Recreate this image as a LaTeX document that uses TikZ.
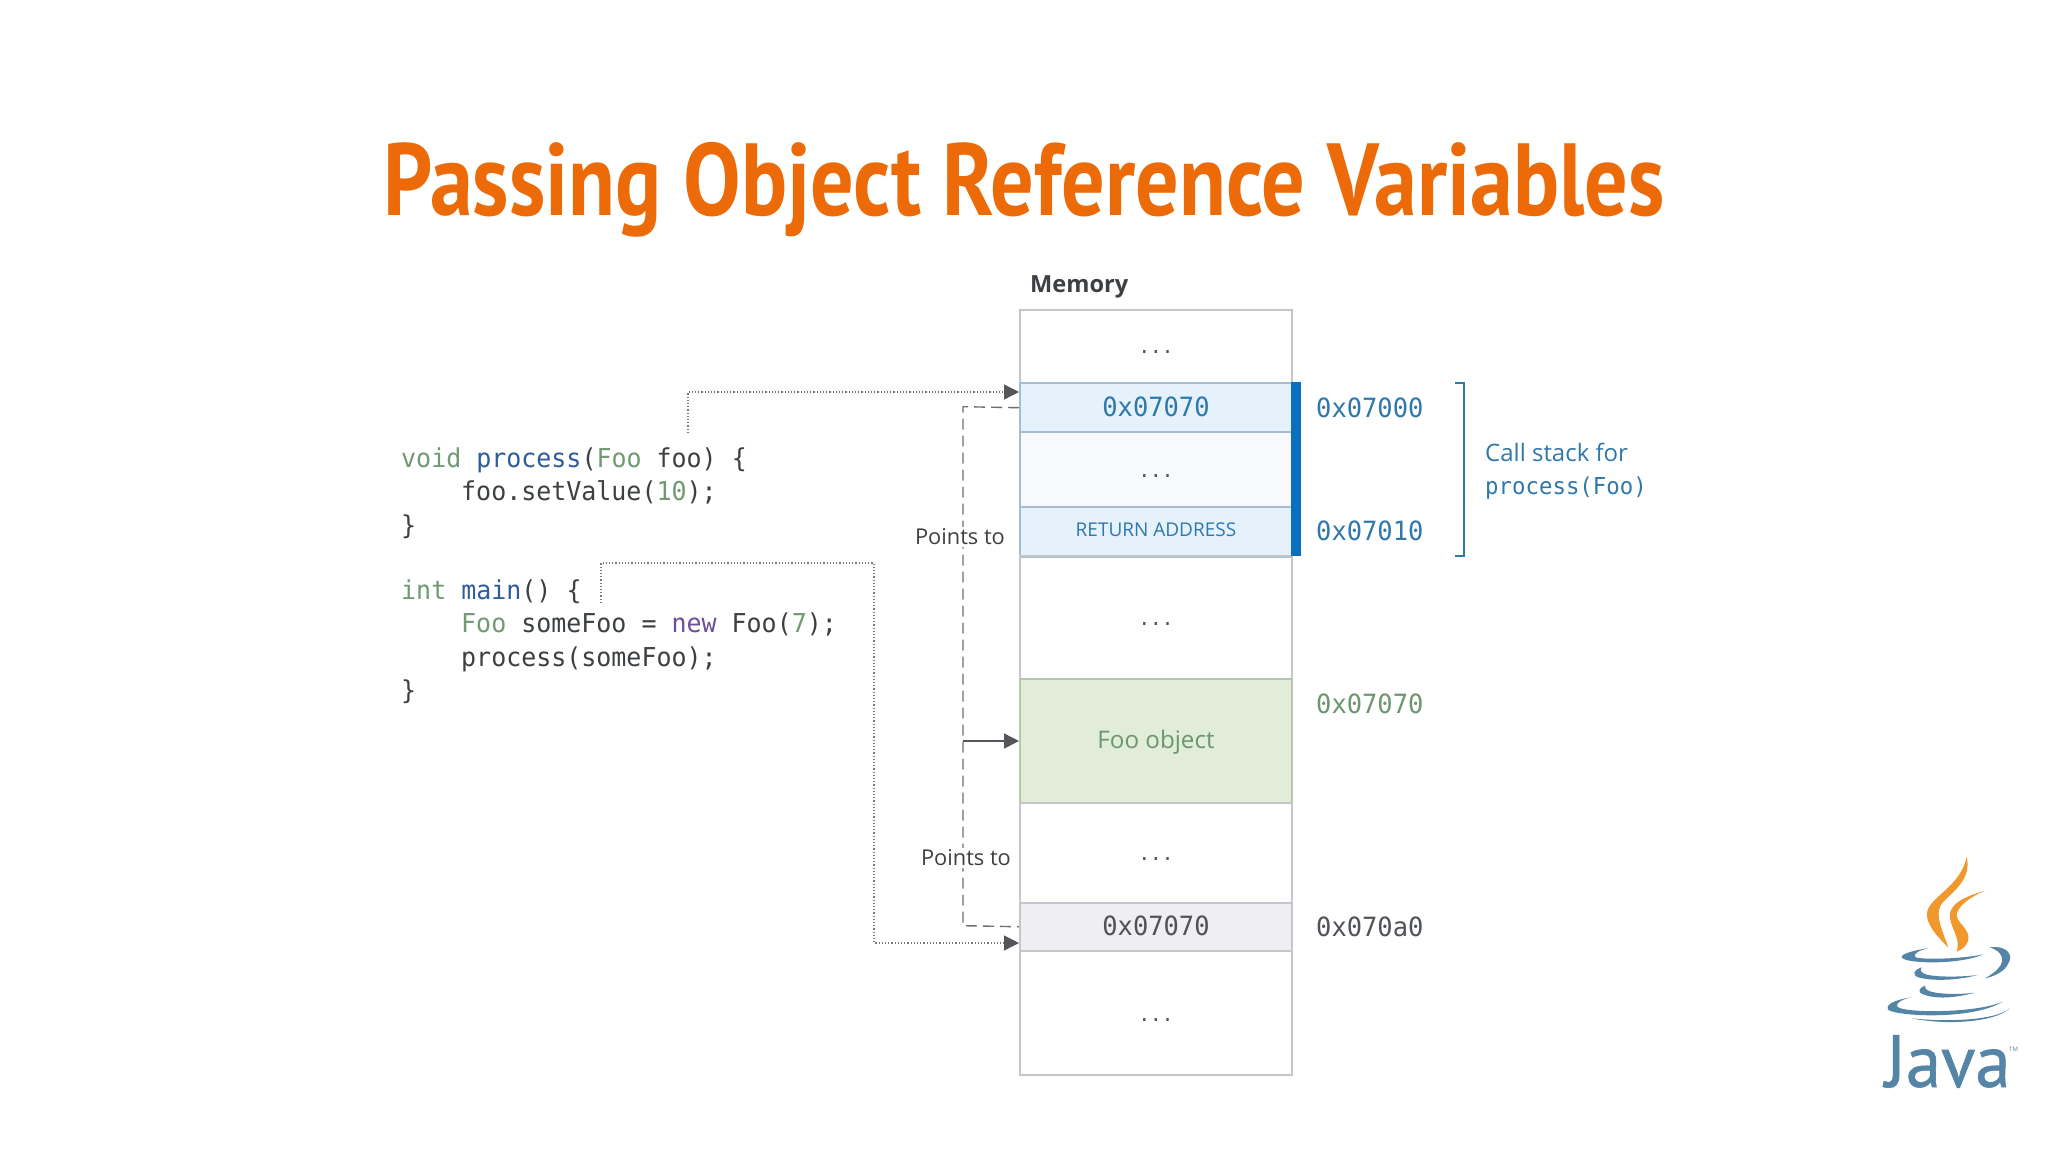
\documentclass[tikz,border=0pt]{standalone}
\usepackage{fontspec}
\usetikzlibrary{arrows.meta}
\setmainfont{Open Sans}
\newfontfamily\titlefont[FakeStretch=0.84]{PT Sans Bold}
\newfontfamily\codefont[FakeStretch=0.96]{DejaVu Sans Mono}
\newfontfamily\javafont[FakeStretch=0.96,FakeBold=0.8]{PT Sans}
\definecolor{ttl}{HTML}{EC6A08}
\definecolor{ink}{HTML}{3C4043}
\definecolor{kgreen}{HTML}{6F9A72}
\definecolor{kblue}{HTML}{2F5C9A}
\definecolor{kpurple}{HTML}{6E4E9A}
\definecolor{sblue}{HTML}{2E78AC}
\definecolor{bar}{HTML}{0A6FBE}
\definecolor{edge}{HTML}{C4C6CC}
\definecolor{edgeb}{HTML}{A9BBCF}
\definecolor{edgeg}{HTML}{B9C4AE}
\definecolor{fblue}{HTML}{E6F2FB}
\definecolor{fpale}{HTML}{F8F9FD}
\definecolor{fgreen}{HTML}{E1EDD8}
\definecolor{fgray}{HTML}{EFEFF1}
\definecolor{lgreen}{HTML}{6B9670}
\definecolor{addr}{HTML}{4F5256}
\definecolor{arrowc}{HTML}{55565A}
\definecolor{flame}{HTML}{F0982C}
\definecolor{jblue}{HTML}{5484A6}
\begin{document}
\begin{tikzpicture}[x=1pt,y=-1pt,
  cell/.style={draw=edge,line width=2pt,minimum width=272pt,inner sep=0pt,anchor=north west,text height=18.4pt,text depth=0pt},
  codeln/.style={anchor=base west,inner sep=0pt,text=ink,font=\codefont\fontsize{26}{30}\selectfont},
  addrl/.style={anchor=west,inner sep=0pt,text height=20.7pt,text depth=0pt,font=\codefont\fontsize{26.5}{30}\selectfont},
  rowval/.style={font=\codefont\fontsize{26.5}{30}\selectfont},
  dotst/.style={inner sep=0pt,text=addr,font=\codefont\fontsize{20}{24}\selectfont},
  ptlabel/.style={fill=white,inner sep=1.5pt,text=ink,font=\fontsize{21.8}{24}\selectfont},
  dotline/.style={draw=arrowc!80,dotted,line width=1.2pt},
  dashline/.style={draw=arrowc!85,dash pattern=on 11pt off 6pt,line width=1.4pt},
  headtip/.style={-{Triangle[length=15pt,width=15pt,color=arrowc,fill=arrowc]}},
  flamefill/.style={fill=flame},
  cupfill/.style={fill=jblue}]
\useasboundingbox (0,0) rectangle (2048,1152);
\fill[white] (0,0) rectangle (2048,1152);

\node[text=ttl,inner sep=0pt,font=\titlefont\fontsize{102.5}{114}\selectfont] (title) at (1024,190) {Passing Object Reference Variables};

% memory cells
\node[anchor=base west,inner sep=0pt,font=\bfseries\fontsize{23.6}{26}\selectfont,text=ink] (memlabel) at (1030,292) {Memory};
\node[cell,minimum height=73pt] (r1) at (1019,308.5) {};
\node[cell,draw=edgeb,fill=fblue,minimum height=50pt,text=sblue,rowval] (stackval) at (1019,381.7) {0x07070};
\node[cell,draw=edgeb,fill=fpale,minimum height=74.5pt] (r2) at (1019,431.3) {};
\node[cell,draw=edgeb,fill=fblue,minimum height=50pt,text=sblue,text height=9.8pt,font=\fontsize{19}{22}\selectfont] (ret) at (1019,505.8) {RETURN ADDRESS};
\node[cell,minimum height=123pt] (r3) at (1019,555.4) {};
\node[cell,draw=edgeg,fill=fgreen,minimum height=124pt,text=lgreen,text height=15.4pt,font=\fontsize{24.2}{28}\selectfont] (foo) at (1019,678) {Foo object};
\node[cell,minimum height=99.5pt] (r4) at (1019,802) {};
\node[cell,fill=fgray,minimum height=48.5pt,text=addr,rowval] (mainval) at (1019,901.5) {0x07070};
\node[cell,minimum height=124pt] (r5) at (1019,950) {};

\foreach \r in {r1,r2,r3,r4,r5}
  \node[dotst] (dots\r) at ([yshift=-6.5pt]\r.center) {...};

% stack bar and bracket
\node[fill=bar,inner sep=0pt,minimum width=10pt,minimum height=174.5pt,anchor=north west] (stackbar) at (1291,381.7) {};
\coordinate (brt) at (1455,383);
\coordinate (brb) at (1455,556);
\draw[sblue,line width=1.5pt] (brt) -- (1464,383) -- (1464,556) -- (brb);

% addresses
\node[addrl,text=sblue] (a1) at (1316,407) {0x07000};
\node[addrl,text=sblue] (a2) at (1316,530) {0x07010};
\node[addrl,text=lgreen] (a3) at (1316,703) {0x07070};
\node[addrl,text=addr] (a4) at (1316,926) {0x070a0};
\node[anchor=base west,inner sep=0pt,text=sblue,font=\fontsize{24}{28}\selectfont] (cs1) at (1485,461) {Call stack for};
\node[anchor=base west,inner sep=0pt,text=sblue,font=\codefont\fontsize{23.3}{28}\selectfont] (cs2) at (1485,494) {process(Foo)};

% code
\node[codeln] (c1) at (401,467) {\textcolor{kgreen}{void} \textcolor{kblue}{process}(\textcolor{kgreen}{Foo} foo) \{};
\node[codeln] (c2) at (461,500.5) {foo.setValue(\textcolor{kgreen}{10});};
\node[codeln] (c3) at (401,534) {\}};
\node[codeln] (c4) at (401,599) {\textcolor{kgreen}{int} \textcolor{kblue}{main}() \{};
\node[codeln] (c5) at (461,632.5) {\textcolor{kgreen}{Foo} someFoo = \textcolor{kpurple}{new} Foo(\textcolor{kgreen}{7});};
\node[codeln] (c6) at (461,666) {process(someFoo);};
\node[codeln] (c7) at (401,699) {\}};

% connectors
\coordinate (s1) at (688,433);
\coordinate (t1) at (1019,392);
\coordinate (s2) at (601,603);
\coordinate (t2) at (1019,943);
\coordinate (hub) at (963,741);
\draw[dotline,headtip] (s1) |- (t1);
\draw[dotline,headtip] (s2) -- (601,563) -- (874,563) |- (t2);
\draw[dashline] (stackval.west) -- (963,406.7) -- (963,925.7) -- (mainval.west);
\draw[draw=arrowc,headtip,line width=1.4pt] (hub) -- (foo.west);
\node[ptlabel] (p1) at (960,537) {Points to};
\node[ptlabel] (p2) at (966,858) {Points to};

% Java logo
\begin{scope}[shift={(1860,840)},x=0.3333pt,y=-0.3333pt]
\fill[flamefill] (320,50) .. controls (335,115) and (285,150) .. (250,185) .. controls (222,215) and (240,255) .. (265,322) .. controls (215,275) and (190,235) .. (205,205) .. controls (225,165) and (305,130) .. (320,50) -- cycle;
\fill[flamefill] (375,152) .. controls (315,178) and (292,205) .. (290,225) .. controls (288,245) and (332,270) .. (325,300) .. controls (320,320) and (303,330) .. (290,335) .. controls (305,290) and (265,260) .. (270,220) .. controls (275,185) and (330,165) .. (375,152) -- cycle;
\fill[cupfill] (205,325) .. controls (150,332) and (120,345) .. (125,352) .. controls (135,372) and (300,375) .. (370,343) .. controls (300,358) and (170,360) .. (165,350) .. controls (160,340) and (180,330) .. (205,325) -- cycle;
\fill[cupfill] (390,322) .. controls (440,315) and (462,345) .. (445,370) .. controls (435,395) and (400,410) .. (375,415) .. controls (410,395) and (432,375) .. (425,350) .. controls (420,335) and (405,328) .. (390,322) -- cycle;
\fill[cupfill] (185,382) .. controls (160,390) and (155,405) .. (175,412) .. controls (220,425) and (300,420) .. (352,405) .. controls (300,412) and (210,412) .. (190,400) .. controls (180,392) and (180,388) .. (185,382) -- cycle;
\fill[cupfill] (195,437) .. controls (175,445) and (170,458) .. (195,465) .. controls (240,480) and (300,470) .. (345,458) .. controls (290,465) and (225,462) .. (205,452) .. controls (195,447) and (195,442) .. (195,437) -- cycle;
\fill[cupfill] (155,472) .. controls (100,480) and (75,495) .. (85,510) .. controls (120,530) and (340,540) .. (428,485) .. controls (350,520) and (130,520) .. (112,500) .. controls (105,490) and (125,478) .. (155,472) -- cycle;
\fill[cupfill] (155,535) .. controls (250,555) and (400,550) .. (450,505) .. controls (400,545) and (240,545) .. (155,535) -- cycle;
\end{scope}
\node[anchor=base west,inner sep=0pt,text=jblue,font=\javafont\fontsize{74}{78}\selectfont] (javaword) at (1885,1087) {Java};
\node[anchor=base west,inner sep=0pt,text=jblue,font=\fontsize{6}{7}\selectfont] (tm) at (2009,1051) {TM};
\end{tikzpicture}
\end{document}
